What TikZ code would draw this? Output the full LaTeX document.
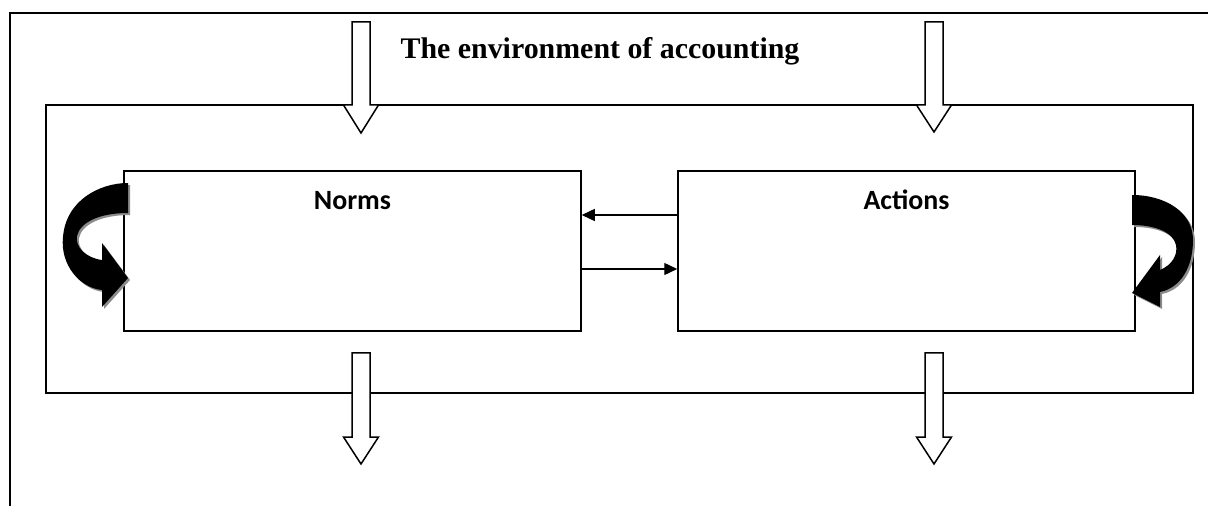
\documentclass[tikz,border=0pt]{standalone}
\usepackage{fontspec}
\setmainfont{Liberation Serif}
\newfontfamily\labelfont{Carlito}
\usetikzlibrary{arrows.meta}

\tikzset{
  frame/.style={draw=black, line width=1.5bp},
  box/.style={draw=black, line width=1.5bp, fill=white, inner sep=0pt},
  boxlabel/.style={font=\labelfont\bfseries\fontsize{28}{33}\selectfont, inner sep=0pt, anchor=base},
  flow/.style={line width=1.4bp, -{Triangle[length=13bp,width=12bp]}},
  blockarrow/.style={draw=black, line width=1.5bp, fill=white, line join=miter},
  curl/.style={fill=black},
  curlshadow/.style={fill=black!45, shift={(2,2)}},
  % left loop: tail at the top, head pointing back into the box
  curlLpath/.style={insert path={
    (128,183) .. controls (100,183) and (66,200) .. (63,237)
    .. controls (60,265) and (80,288) .. (102,290)
    -- (102,307) -- (128,278) -- (102,243) -- (102,260)
    .. controls (86,258) and (75,247) .. (77,236)
    .. controls (80,222) and (100,213) .. (128,213) -- cycle}},
  % right loop, mirrored
  curlRpath/.style={insert path={
    (1132,195) .. controls (1165,195) and (1193,212) .. (1193,240)
    .. controls (1193,268) and (1180,288) .. (1160,292)
    -- (1160,307) -- (1132,293) -- (1160,255) -- (1160,270)
    .. controls (1172,265) and (1178,255) .. (1176,245)
    .. controls (1173,232) and (1155,225) .. (1132,225) -- cycle}}
}

% downward block arrow: #1 = centre x, #2 = top of shaft, #3 = base of head, #4 = tip
\newcommand\blockdown[4]{%
  \path[blockarrow] (#1-9,#2) -- (#1+9,#2) -- (#1+9,#3) -- (#1+17.5,#3)
    -- (#1,#4) -- (#1-17.5,#3) -- (#1-9,#3) -- cycle;}

\begin{document}
\begin{tikzpicture}[x=1bp, y=-1bp]
\useasboundingbox (0,0) rectangle (1208,506);

% page frame (open to the right and below)
\coordinate (pageTR) at (1208,13);
\coordinate (pageTL) at (10,13);
\coordinate (pageBL) at (10,506);
\draw[frame] (pageTR) -- (pageTL) -- (pageBL);

% the environment
\node[box, fill=none, minimum width=1147bp, minimum height=288bp] (env) at (619.5,249) {};

\node[font=\bfseries\fontsize{30}{36}\selectfont, inner sep=0pt, anchor=base] (title) at (600,59)
  {The environment of accounting};

% flows into and out of the environment
\blockdown{361}{22}{105}{133}
\blockdown{934}{22}{105}{132}
\blockdown{361}{353}{437}{464}
\blockdown{934}{353}{437}{464}

% norms and actions
\node[box, minimum width=457bp, minimum height=160bp] (norms) at (352.5,251) {};
\node[box, minimum width=457bp, minimum height=160bp] (actions) at (906.5,251) {};
\coordinate (labelBase) at (0,210);
\node[boxlabel] (normsText) at (norms.center |- labelBase) {Norms};
\node[boxlabel] (actionsText) at (actions.center |- labelBase) {Actions};

\coordinate (upper) at (0,215);
\coordinate (lower) at (0,269);
\draw[flow] (actions.west |- upper) -- (norms.east |- upper);
\draw[flow] (norms.east |- lower) -- (actions.west |- lower);

% self-reinforcing loops
\fill[curlshadow, curlLpath];
\fill[curl, curlLpath];
\fill[curlshadow, curlRpath];
\fill[curl, curlRpath];
\end{tikzpicture}
\end{document}
